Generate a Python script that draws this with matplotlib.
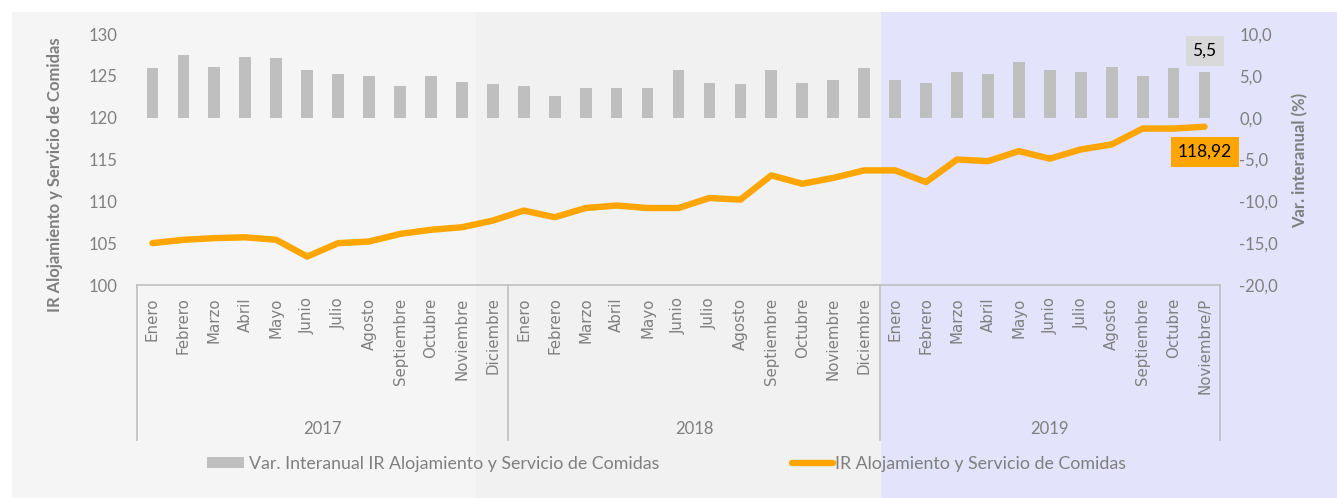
import matplotlib
matplotlib.use("Agg")
import matplotlib.pyplot as plt
from matplotlib.patches import Rectangle, Patch
from matplotlib.lines import Line2D
import numpy as np

# ---------------- data ----------------
months = ["Enero", "Febrero", "Marzo", "Abril", "Mayo", "Junio", "Julio", "Agosto",
          "Septiembre", "Octubre", "Noviembre", "Diciembre"]
months_2019 = months[:10] + ["Noviembre/P"]
years = ["2017", "2018", "2019"]
tick_labels = months + months + months_2019

var_interanual = [5.9, 7.5, 6.1, 7.3, 7.1, 5.7, 5.2, 5.0, 3.8, 5.0, 4.3, 4.0,
                  3.8, 2.6, 3.5, 3.5, 3.5, 5.7, 4.2, 4.0, 5.7, 4.2, 4.5, 5.9,
                  4.5, 4.2, 5.4, 5.2, 6.6, 5.7, 5.4, 6.1, 5.0, 5.9, 5.5]
ir_index = [105.0, 105.4, 105.6, 105.7, 105.4, 103.4, 105.0, 105.2, 106.1, 106.6, 106.9, 107.7,
            108.9, 108.1, 109.2, 109.5, 109.2, 109.2, 110.4, 110.2, 113.1, 112.1, 112.8, 113.7,
            113.7, 112.3, 115.0, 114.8, 116.0, 115.1, 116.2, 116.8, 118.7, 118.7, 118.92]

left_ticks = [100, 105, 110, 115, 120, 125, 130]
right_ticks = [-20, -15, -10, -5, 0, 5, 10]
right_tick_labels = ["-20,0", "-15,0", "-10,0", "-5,0", "0,0", "5,0", "10,0"]

bar_label = "Var. Interanual IR Alojamiento y Servicio de Comidas"
line_label = "IR Alojamiento y Servicio de Comidas"

# ---------------- style ----------------
W, H = 1337, 498
GRAY = "#7f7f7f"
FONT = "Lato"
plt.rcParams["font.family"] = [FONT, "DejaVu Sans"]

def fx(px):
    return px / W

def fy(py):
    return 1 - py / H

fig = plt.figure(figsize=(W / 100, H / 100), dpi=100, facecolor="white")

# background bands
for x0, x1, c in [(12, 476, "#f5f5f5"), (476, 881, "#f1f1f1"), (881, 1337, "#e3e3fb")]:
    fig.add_artist(Rectangle((fx(x0), fy(498)), fx(x1) - fx(x0), fy(12) - fy(498),
                             transform=fig.transFigure, facecolor=c, edgecolor="none", zorder=-10))

ax = fig.add_axes([fx(137), fy(285), fx(1220) - fx(137), fy(34) - fy(285)])
ax.patch.set_visible(False)
ax2 = ax.twinx()
ax2.patch.set_visible(False)

x = np.arange(len(tick_labels))

# bars (right axis)
ax2.bar(x, var_interanual, width=0.38, color="#bfbfbf", zorder=2)
ax2.set_ylim(-20, 10)
ax2.set_yticks(right_ticks)
ax2.set_yticklabels(right_tick_labels)

# line (left axis)
ax.plot(x, ir_index, color="#ffa500", lw=4.6, solid_capstyle="round",
        solid_joinstyle="round", zorder=3)
ax.set_ylim(100, 130)
ax.set_yticks(left_ticks)
ax.set_xlim(-0.5, len(x) - 0.5)
ax.set_xticks(x)
ax.set_xticklabels(tick_labels, rotation=90, va="top", ha="center",
                   fontsize=10.8, color=GRAY, family="DejaVu Sans")

for a in (ax, ax2):
    for s in a.spines.values():
        s.set_visible(False)
ax.spines["bottom"].set_visible(True)
ax.spines["bottom"].set_color("#bfbfbf")
ax.spines["bottom"].set_linewidth(1.2)

ax.tick_params(axis="x", length=0, pad=9)
ax.tick_params(axis="y", length=0, pad=14, labelsize=12, labelcolor=GRAY)
ax2.tick_params(axis="y", length=0, pad=14, labelsize=12, labelcolor=GRAY)
for t in ax2.get_yticklabels():
    t.set_horizontalalignment("left")

# year separators and labels
sep_bottom = -(440 - 285) / (285 - 34)
trans = ax.get_xaxis_transform()
for xs in [-0.5, 11.5, 23.5, len(x) - 0.5]:
    ax.add_line(Line2D([xs, xs], [0, sep_bottom], transform=trans, color="#bfbfbf",
                       lw=1.2, clip_on=False))
year_y = -(429 - 285) / (285 - 34)
for i, yr in enumerate(years):
    start = i * 12 - 0.5
    end = min(start + 12, len(x) - 0.5)
    ax.text((start + end) / 2, year_y, yr, transform=trans, ha="center", va="center",
            fontsize=12, color=GRAY)

# axis titles
fig.text(fx(55), fy(175), "IR Alojamiento y Servicio de Comidas", rotation=90,
         ha="center", va="center", fontsize=12, fontweight="bold", color=GRAY)
fig.text(fx(1300), fy(160), "Var. interanual (%)", rotation=90,
         ha="center", va="center", fontsize=12, fontweight="bold", color=GRAY)

# data labels
last = len(x) - 1
ax2.annotate(f"{var_interanual[last]:.1f}".replace(".", ","), xy=(x[last], var_interanual[last]),
             xytext=(0, 15), textcoords="offset points", ha="center", va="center",
             fontsize=12.5, color="black",
             bbox=dict(boxstyle="square,pad=0.4", facecolor="#d9d9d9", edgecolor="none"),
             zorder=5)
ax.annotate(f"{ir_index[last]:.2f}".replace(".", ","), xy=(x[last], ir_index[last]),
            xytext=(0, -18), textcoords="offset points", ha="center", va="center",
            fontsize=12.5, color="black",
            bbox=dict(boxstyle="square,pad=0.4", facecolor="#ffa500", edgecolor="none"),
            zorder=5)

# legends
h1 = Patch(facecolor="#bfbfbf", edgecolor="none")
h2 = Line2D([0], [0], color="#ffa500", lw=4.6, solid_capstyle="round")
leg1 = fig.legend([h1], [bar_label], loc="center left", bbox_to_anchor=(fx(207), fy(464)),
                  frameon=False, borderpad=0, borderaxespad=0, handlelength=2.1,
                  handleheight=0.6, handletextpad=0.25, fontsize=12.8, labelcolor=GRAY)
leg2 = fig.legend([h2], [line_label], loc="center left", bbox_to_anchor=(fx(792), fy(464)),
                  frameon=False, borderpad=0, borderaxespad=0, handlelength=2.3,
                  handletextpad=0.1, fontsize=12.8, labelcolor=GRAY)

fig.savefig("out.png", dpi=100, facecolor="white")
